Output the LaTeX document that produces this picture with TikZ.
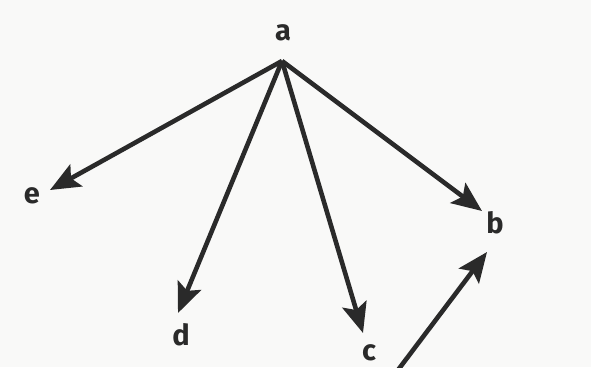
\documentclass[tikz,border=0pt]{standalone}
\usepackage{fontspec}
\setmainfont{Fira Sans}
\usetikzlibrary{arrows.meta}
\definecolor{ink}{HTML}{2A2A2A}
\definecolor{paper}{HTML}{F9F9F8}
\tikzset{
  lbl/.style={text=ink, font=\bfseries\fontsize{29}{32}\selectfont, inner sep=0pt},
  arr/.style={draw=ink, line width=4.6pt, -{Stealth[length=30pt,width=25pt,inset=6pt]}}
}
\begin{document}
\begin{tikzpicture}[x=1pt,y=-1pt]
\fill[paper] (0,0) rectangle (591,367);
\useasboundingbox (0,0) rectangle (591,367);
\node[lbl] (a) at (283,33) {a};
\node[lbl] (e) at (32,196) {e};
\node[lbl] (d) at (181,335) {d};
\node[lbl] (c) at (369,353) {c};
\node[lbl] (b) at (495,223) {b};
\coordinate (apex) at (282,61);
\coordinate (tail) at (398,370);
\draw[arr] (apex) -- ([shift={(18pt,6pt)}]e.center);
\draw[arr] (apex) -- ([shift={(-3pt,22pt)}]d.center);
\draw[arr] (apex) -- ([shift={(-6pt,20pt)}]c.center);
\draw[arr] (apex) -- ([shift={(-13pt,12pt)}]b.center);
\draw[arr] (tail) -- ([shift={(-8pt,-29pt)}]b.center);
\end{tikzpicture}
\end{document}
